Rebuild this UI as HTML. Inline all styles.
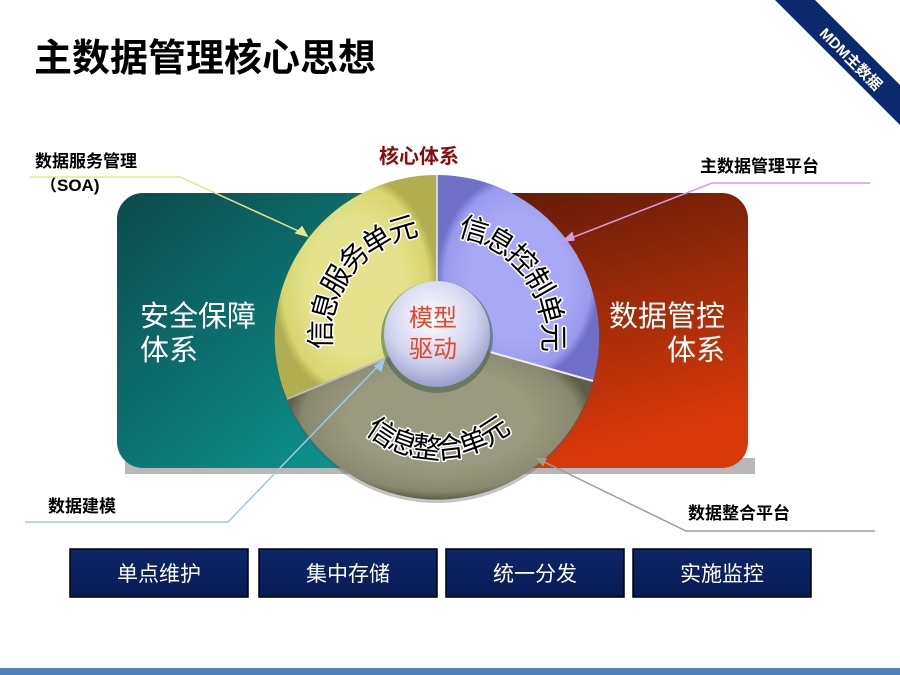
<!DOCTYPE html>
<html><head><meta charset="utf-8"><style>
body{margin:0;width:900px;height:675px;overflow:hidden;background:#fff;font-family:"Liberation Sans","Noto Sans CJK SC",sans-serif;}
</style></head><body>
<svg width="900" height="675" viewBox="0 0 900 675" xmlns="http://www.w3.org/2000/svg" style="position:absolute;left:0;top:0">
<defs>
<linearGradient id="tl" x1="0" y1="0" x2="1" y2="1"><stop offset="0" stop-color="#0d4a4a"/><stop offset="1" stop-color="#0aa09c"/></linearGradient>
<linearGradient id="rd" x1="0" y1="0" x2="0.3" y2="1"><stop offset="0" stop-color="#5c1a08"/><stop offset="1" stop-color="#d8390a"/></linearGradient>
<linearGradient id="nv" x1="0" y1="0" x2="0" y2="1"><stop offset="0" stop-color="#0c2668"/><stop offset="1" stop-color="#061c55"/></linearGradient>
<radialGradient id="ctr" cx="0.45" cy="0.35" r="0.7"><stop offset="0" stop-color="#ffffff"/><stop offset="0.6" stop-color="#d0d3ee"/><stop offset="1" stop-color="#8e93c4"/></radialGradient>
<radialGradient id="yl" cx="0.5" cy="0.5" r="0.5"><stop offset="0.6" stop-color="#e4e28c"/><stop offset="0.9" stop-color="#d8d66e"/><stop offset="1" stop-color="#b0ae50"/></radialGradient>
<radialGradient id="bl" cx="0.5" cy="0.5" r="0.5"><stop offset="0.6" stop-color="#a8a8f4"/><stop offset="0.9" stop-color="#9a9aee"/><stop offset="1" stop-color="#7070c8"/></radialGradient>
<radialGradient id="gy" cx="0.5" cy="0.5" r="0.5"><stop offset="0.6" stop-color="#9a9a80"/><stop offset="0.9" stop-color="#888870"/><stop offset="1" stop-color="#5e5e48"/></radialGradient>
<path id="py" d="M334,362 A102,102 0 0 1 430,235"/>
<path id="pb" d="M444,235 A102,102 0 0 1 540,362"/>
<path id="pg" d="M333,388 A112,112 0 0 0 541,388"/>
</defs>
<polygon points="775,0 815,0 900,85 900,125" fill="#0b2a6e"/>
<text x="0" y="0" transform="translate(850,60) rotate(45)" text-anchor="middle" dominant-baseline="middle" font-size="15" font-weight="bold" fill="#fff">MDM主数据</text>
<text x="34" y="71" font-size="38" font-weight="bold" fill="#000">主数据管理核心思想</text>
<rect x="125" y="458" width="630" height="16" fill="#b8b8b8"/>
<rect x="117" y="193" width="320" height="275" rx="26" fill="url(#tl)"/>
<rect x="437" y="193" width="311" height="275" rx="26" fill="url(#rd)"/>
<text x="140" y="326" font-size="29" fill="#fff">安全保障</text>
<text x="140" y="360" font-size="29" fill="#fff">体系</text>
<text x="725" y="326" font-size="29" fill="#fff" text-anchor="end">数据管控</text>
<text x="725" y="360" font-size="29" fill="#fff" text-anchor="end">体系</text>
<circle cx="437" cy="340" r="163" fill="#555" opacity="0.35"/>
<path d="M437,337 L437,175 A162,162 0 0 0 287,399 Z" fill="url(#yl)"/>
<path d="M437,337 L437,175 A162,162 0 0 1 593,381 Z" fill="url(#bl)"/>
<path d="M437,337 L593,381 A162,162 0 0 1 287,399 Z" fill="url(#gy)"/>
<line x1="437" y1="175" x2="437" y2="290" stroke="#eee" stroke-width="1.5"/>
<line x1="490" y1="352" x2="593" y2="381" stroke="#eee" stroke-width="2"/>
<line x1="386" y1="358" x2="287" y2="399" stroke="#bbb" stroke-width="2"/>
<circle cx="437" cy="337" r="56" fill="#3a5a3a" opacity="0.5"/>
<circle cx="437" cy="334" r="53" fill="url(#ctr)"/>
<text x="433" y="326" font-size="24" fill="#e8442a" text-anchor="middle">模型</text>
<text x="433" y="357" font-size="24" fill="#e8442a" text-anchor="middle">驱动</text>
<g font-size="29" fill="#000" stroke="#fff" stroke-width="3" paint-order="stroke" style="stroke-linejoin:round">
<text><textPath href="#py" startOffset="50%" text-anchor="middle" letter-spacing="-3">信息服务单元</textPath></text>
<text><textPath href="#pb" startOffset="50%" text-anchor="middle" letter-spacing="-3">信息控制单元</textPath></text>
<text><textPath href="#pg" startOffset="50%" text-anchor="middle" letter-spacing="-3">信息整合单元</textPath></text>
</g>
<text x="419" y="163" font-size="20" font-weight="bold" fill="#8b0a0a" text-anchor="middle">核心体系</text>
<g font-size="17" font-weight="bold" fill="#000">
<text x="35" y="167">数据服务管理</text>
<text x="40" y="191">（SOA)</text>
<text x="700" y="172">主数据管理平台</text>
<text x="48" y="512">数据建模</text>
<text x="688" y="519">数据整合平台</text>
</g>
<g fill="none" stroke-width="1.5">
<polyline points="30,177 180,177 305,234" stroke="#e8e68a"/>
<polygon points="307,236 296,233 302,227" fill="#e8e68a" stroke="#e8e68a"/>
<polyline points="870,183 712,183 566,240" stroke="#d59be0"/>
<polygon points="563,241 572,233 574,240" fill="#d59be0" stroke="#d59be0"/>
<polyline points="25,522 228,522 382,362" stroke="#9cc8ea"/>
<polygon points="384,360 381,371 375,366" fill="#9cc8ea" stroke="#9cc8ea"/>
<polyline points="875,531 686,531 538,459" stroke="#a09c90"/>
<polygon points="536,458 546,459 543,465" fill="#a09c90" stroke="#a09c90"/>
</g>
<g font-size="21" fill="#fff" text-anchor="middle">
<rect x="70" y="549" width="178" height="48" fill="url(#nv)" stroke="#000" stroke-width="1.5"/>
<text x="159" y="581">单点维护</text>
<rect x="259" y="549" width="178" height="48" fill="url(#nv)" stroke="#000" stroke-width="1.5"/>
<text x="348" y="581">集中存储</text>
<rect x="446" y="549" width="178" height="48" fill="url(#nv)" stroke="#000" stroke-width="1.5"/>
<text x="535" y="581">统一分发</text>
<rect x="633" y="549" width="178" height="48" fill="url(#nv)" stroke="#000" stroke-width="1.5"/>
<text x="722" y="581">实施监控</text>
</g>
<rect x="0" y="668" width="900" height="7" fill="#4f81bd"/>
</svg>
</body></html>
